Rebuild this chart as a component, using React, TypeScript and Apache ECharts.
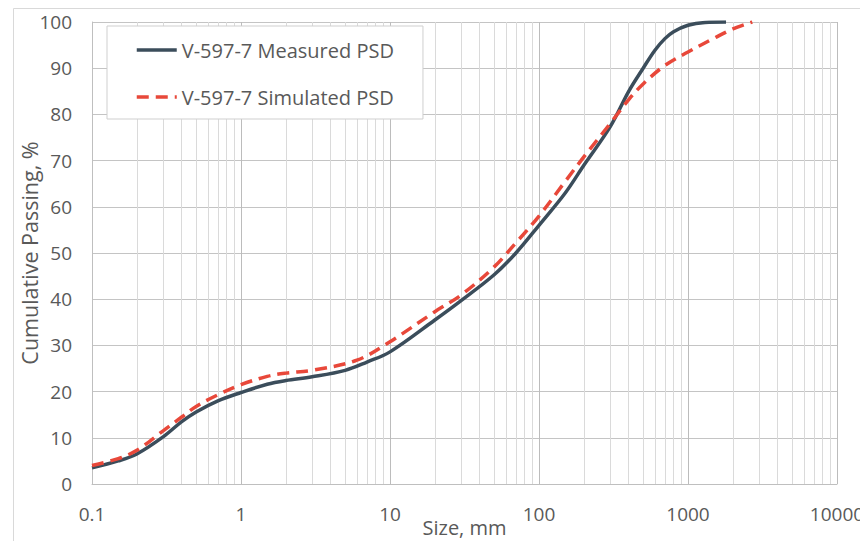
import React, { useEffect, useRef } from "react";
import * as echarts from "echarts";

const measuredSize = [0.1, 0.15, 0.2, 0.3, 0.4, 0.5, 0.7, 1, 1.5, 2, 3, 5, 7, 10, 20, 30, 50, 70, 100, 150, 200, 300, 400, 500, 600, 700, 800, 1000, 1300, 1800];
const measuredPassing = [3.5, 5, 6.5, 10.2, 13.5, 15.6, 18, 19.8, 21.6, 22.4, 23.2, 24.6, 26.4, 28.6, 35.5, 39.7, 45.3, 50, 56, 63, 69, 77.3, 85, 90, 93.9, 96.4, 97.9, 99.3, 99.9, 100];

const simulatedSize = [0.1, 0.15, 0.2, 0.3, 0.4, 0.5, 0.7, 1, 1.5, 2, 3, 6, 10, 20, 30, 50, 70, 100, 150, 200, 300, 400, 500, 700, 1000, 1500, 2000, 2700];
const simulatedPassing = [4, 5.5, 7.3, 11.5, 14.5, 16.8, 19.3, 21.5, 23.3, 24, 24.6, 26.8, 30.8, 37.3, 40.9, 47, 52.2, 58, 65.5, 70.8, 78, 83.2, 86.6, 90.6, 93.5, 96.5, 98.5, 100];

const xTickLabels = ["0.1", "1", "10", "100", "1000", "10000"];
const decades = [0.1, 1, 10, 100, 1000];
const minorMultipliers = [2, 3, 4, 5, 6, 7, 8, 9];

const seriesNames = ["V-597-7 Measured PSD", "V-597-7 Simulated PSD"];

export default function App() {
  const ref = useRef<HTMLDivElement>(null);
  useEffect(() => {
    if (!ref.current) return;
    const chart = echarts.init(ref.current, null, { renderer: "svg" });
    const minorLines: { xAxis: number }[] = [];
    decades.forEach((d) => minorMultipliers.forEach((m) => minorLines.push({ xAxis: +(d * m).toPrecision(6) })));
    const font = "'Open Sans', sans-serif";
    chart.setOption({
      animation: false,
      backgroundColor: "#ffffff",
      graphic: [
        {
          type: "rect",
          left: 11,
          top: 6,
          shape: { x: 0, y: 0, width: 860, height: 560 },
          style: { fill: "none", stroke: "#d9d9d9", lineWidth: 1 },
          silent: true,
          z: -1,
        },
      ],
      grid: { left: 92, right: 23, top: 22, bottom: 57, containLabel: false, outerBoundsMode: "none" },
      legend: {
        data: seriesNames,
        orient: "vertical",
        left: 107,
        top: 26,
        padding: [13, 29, 11, 28],
        itemGap: 25,
        itemWidth: 40,
        itemHeight: 14,
        itemStyle: { opacity: 0 },
        lineStyle: { width: 3.5 },
        backgroundColor: "#ffffff",
        borderColor: "#cfcfcf",
        borderWidth: 1,
        textStyle: { fontFamily: font, fontSize: 20, color: "#595959", lineHeight: 22 },
      },
      xAxis: {
        type: "log",
        logBase: 10,
        min: 0.1,
        max: 10000,
        name: "Size, mm",
        nameLocation: "middle",
        nameGap: 33,
        nameMoveOverlap: false,
        nameTextStyle: { fontFamily: font, fontSize: 20, color: "#595959" },
        axisLine: { show: true, lineStyle: { color: "#bfbfbf", width: 1 } },
        axisTick: { show: false },
        axisLabel: {
          margin: 20,
          fontFamily: font,
          fontSize: 19,
          color: "#595959",
          formatter: (v: number) => xTickLabels[Math.round(Math.log10(v)) + 1] ?? "",
        },
        splitLine: { show: true, lineStyle: { color: "#bcbcbc", width: 1 } },
      },
      yAxis: {
        type: "value",
        min: 0,
        max: 100,
        interval: 10,
        name: "Cumulative Passing, %",
        nameLocation: "middle",
        nameGap: 52,
        nameMoveOverlap: false,
        nameTextStyle: { fontFamily: font, fontSize: 21.5, color: "#595959" },
        axisLine: { show: true, lineStyle: { color: "#bfbfbf", width: 1 } },
        axisTick: { show: false },
        axisLabel: { margin: 20, fontFamily: font, fontSize: 19, color: "#595959" },
        splitLine: { show: true, lineStyle: { color: "#c4c4c4", width: 1 } },
      },
      series: [
        {
          name: "_minorGrid",
          type: "line",
          data: [],
          silent: true,
          markLine: {
            silent: true,
            symbol: "none",
            z: 1,
            label: { show: false },
            lineStyle: { color: "#dadada", width: 1, type: "solid" },
            emphasis: { disabled: true },
            data: minorLines,
          },
        },
        {
          name: seriesNames[0],
          type: "line",
          data: measuredSize.map((x, i) => [x, measuredPassing[i]]),
          smooth: 0.35,
          symbol: "none",
          z: 3,
          lineStyle: { color: "#3b4d5b", width: 3.5 },
          itemStyle: { color: "#3b4d5b" },
        },
        {
          name: seriesNames[1],
          type: "line",
          data: simulatedSize.map((x, i) => [x, simulatedPassing[i]]),
          smooth: 0.35,
          symbol: "none",
          z: 4,
          lineStyle: { color: "#e8483a", width: 3.5, type: [12, 7] },
          itemStyle: { color: "#e8483a" },
        },
      ],
    });
    return () => chart.dispose();
  }, []);
  return (
    <div
      ref={ref}
      style={{ position: "absolute", left: 0, top: 0, width: 860, height: 541 }}
    />
  );
}
